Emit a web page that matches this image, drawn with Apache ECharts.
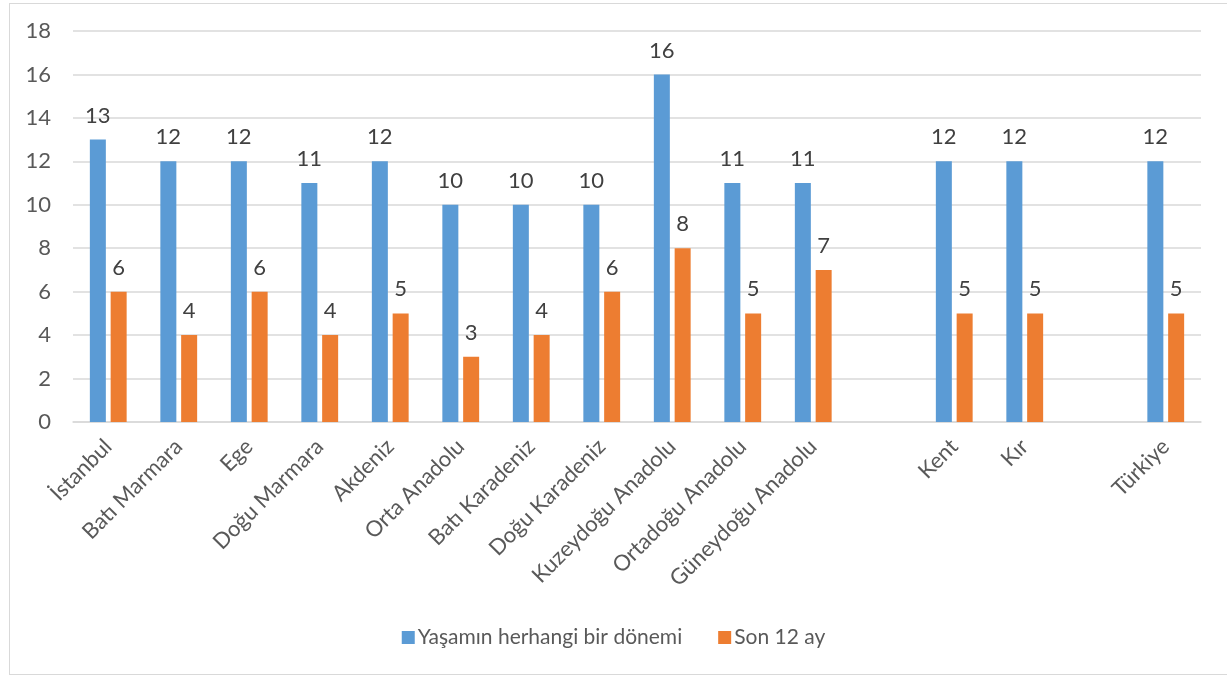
<!DOCTYPE html>
<html>
<head>
<meta charset="utf-8">
<script src="https://cdn.jsdelivr.net/npm/echarts@6/dist/echarts.min.js"></script>
<style>
  html, body { margin: 0; padding: 0; background: #fff; }
  #frame { position: absolute; left: 9px; top: 3px; width: 1240px; height: 672px; border: 1px solid #d9d9d9; box-sizing: border-box; }
  #chart { position: absolute; left: 0; top: 0; width: 1227px; height: 677px; }
</style>
</head>
<body>
<div id="frame"></div>
<div id="chart"></div>
<script>
// categories (empty slots keep the gaps before Kent and Türkiye)
const categories = ['İstanbul', 'Batı Marmara', 'Ege', 'Doğu Marmara', 'Akdeniz', 'Orta Anadolu',
  'Batı Karadeniz', 'Doğu Karadeniz', 'Kuzeydoğu Anadolu', 'Ortadoğu Anadolu', 'Güneydoğu Anadolu',
  '', 'Kent', 'Kır', '', 'Türkiye'];
const lifetime = [13, 12, 12, 11, 12, 10, 10, 10, 16, 11, 11, '-', 12, 12, '-', 12];
const last12 = [6, 4, 6, 4, 5, 3, 4, 6, 8, 5, 7, '-', 5, 5, '-', 5];
const seriesNames = ['Yaşamın herhangi bir dönemi', 'Son 12 ay'];

const chart = echarts.init(document.getElementById('chart'));
const font = 'Lato, "Open Sans", sans-serif';

const labelStyle = {
  show: true,
  position: 'top',
  distance: 13,
  color: '#404040',
  fontSize: 22,
  fontFamily: font
};

chart.setOption({
  animation: false,
  textStyle: { fontFamily: font },
  grid: { left: 73, right: 26, top: 31, bottom: 255 },
  legend: {
    bottom: 24,
    left: 'center',
    itemWidth: 13,
    itemHeight: 13,
    itemGap: 36,
    icon: 'rect',
    textStyle: { color: '#595959', fontSize: 21, fontFamily: font, padding: [0, 0, 0, -2] },
    data: seriesNames
  },
  xAxis: {
    type: 'category',
    data: categories,
    axisLine: { lineStyle: { color: '#d9d9d9', width: 1.5 } },
    axisTick: { show: false },
    axisLabel: {
      rotate: 45,
      interval: 0,
      margin: 21,
      color: '#595959',
      fontSize: 22,
      fontFamily: font
    }
  },
  yAxis: {
    type: 'value',
    min: 0,
    max: 18,
    interval: 2,
    axisLine: { show: false },
    axisTick: { show: false },
    splitLine: { lineStyle: { color: '#d9d9d9', width: 1.5 } },
    axisLabel: { color: '#595959', fontSize: 22, margin: 22, fontFamily: font }
  },
  series: [
    {
      name: seriesNames[0],
      type: 'bar',
      data: lifetime,
      barWidth: 16,
      barGap: '30%',
      itemStyle: { color: '#5b9bd5' },
      label: labelStyle
    },
    {
      name: seriesNames[1],
      type: 'bar',
      data: last12,
      barWidth: 16,
      itemStyle: { color: '#ed7d31' },
      label: labelStyle
    }
  ]
});
</script>
</body>
</html>
